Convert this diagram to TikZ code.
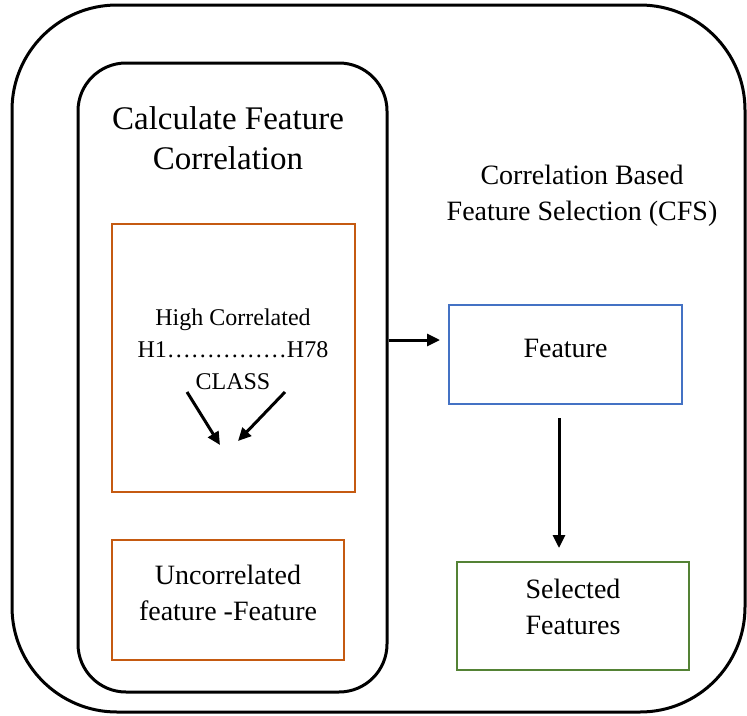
\documentclass[tikz,border=0pt]{standalone}
\usepackage{fontspec}
\setmainfont{Liberation Serif}
\usepackage{tikz}
\usetikzlibrary{positioning}
\usetikzlibrary{arrows.meta}

\definecolor{orangeline}{HTML}{C55A11}
\definecolor{blueline}{HTML}{4472C4}
\definecolor{greenline}{HTML}{548235}

\begin{document}
\begin{tikzpicture}[x=1pt, y=-1pt,
                framenode/.style={rectangle, draw, line width=3pt, inner sep=0pt},
                boxnode/.style={rectangle, draw, line width=2.5pt, inner sep=0pt, outer sep=0pt, align=center, font=\fontsize{28}{36}\selectfont},
                orangenode/.style={boxnode, draw=orangeline},
                bluenode/.style={boxnode, draw=blueline},
                greennode/.style={boxnode, draw=greenline},
                labelnode/.style={align=center, inner sep=0pt},
                arrowline/.style={-{Triangle[length=13pt, width=12pt]}, line width=3pt},
            ]
            \useasboundingbox (0,0) rectangle (747,715);

            % Nodes
            \node[framenode, rounded corners=105pt, minimum width=733pt, minimum height=707pt] (cfs) at (378.5,358.5) {};
            \node[framenode, rounded corners=48pt, minimum width=309pt, minimum height=629pt] (calc) at (232.5,377.5) {};
            \node[labelnode, font=\fontsize{33}{40}\selectfont] (calc_title) at (228,138) {Calculate Feature\\Correlation};

            \node[orangenode, minimum width=243pt, minimum height=268pt] (high_corr) at (233.5,358) {};
            \node[labelnode, font=\fontsize{24}{32}\selectfont] (high_corr_text) at (233,349.5) {High Correlated\\H1……………H78\\CLASS};
            \coordinate (class_left) at (187,392);
            \coordinate (class_left_end) at (220,445);
            \coordinate (class_right) at (285,392);
            \coordinate (class_right_end) at (238,441);

            \node[orangenode, minimum width=232pt, minimum height=120pt, text depth=14pt] (uncorr) [below=48pt of high_corr.south west, anchor=north west] {Uncorrelated\\feature -Feature};

            \node[labelnode, font=\fontsize{28}{36}\selectfont] (cfs_title) at (582,196) {Correlation Based\\Feature Selection (CFS)};
            \node[bluenode, minimum width=233pt, minimum height=99pt, text depth=13pt] (feature) at (565.5,354.5) {Feature};
            \node[greennode, minimum width=232pt, minimum height=108pt, text depth=18pt] (selected) [below=158pt of feature, xshift=7.5pt] {Selected\\Features};

            \coordinate (feature_in) at ([yshift=14.5pt]feature.west);
            \coordinate (feature_out) at ([xshift=-6.5pt]feature.south);

            %Lines
            \draw[arrowline] (class_left) -- (class_left_end);
            \draw[arrowline] (class_right) -- (class_right_end);

            \draw[arrowline, shorten >=9pt] (calc.east |- feature_in) -- (feature_in);
            \draw[arrowline, shorten <=14pt, shorten >=14pt] (feature_out) -- (feature_out |- selected.north);
        \end{tikzpicture}
\end{document}
